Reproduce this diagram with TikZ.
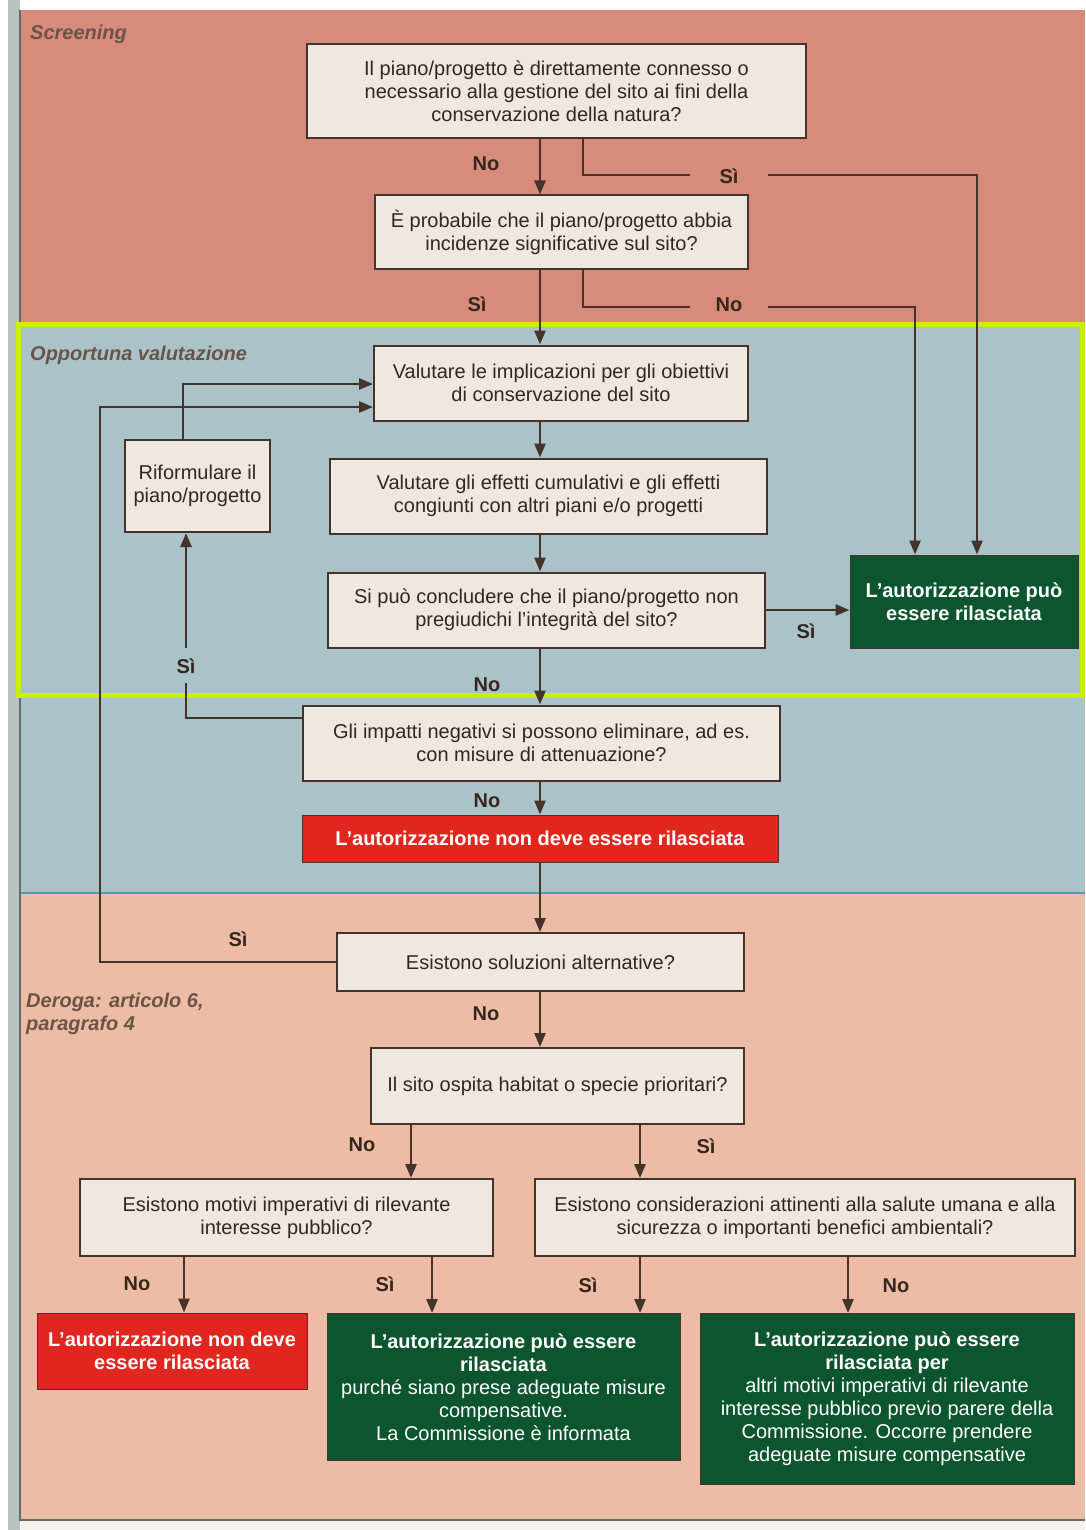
\documentclass[tikz,border=0pt]{standalone}
\usepackage{fontspec}
\setmainfont{Liberation Sans}
\usetikzlibrary{arrows.meta}
\definecolor{scr}{HTML}{D78B7B}
\definecolor{opp}{HTML}{A9C3C9}
\definecolor{der}{HTML}{EDBCA4}
\definecolor{framec}{HTML}{C8F000}
\definecolor{boxfill}{HTML}{EEE8E0}
\definecolor{ink}{HTML}{45322A}
\definecolor{txt}{HTML}{35271F}
\definecolor{dgreen}{HTML}{0D552E}
\definecolor{dred}{HTML}{E0261F}
\definecolor{sectc}{HTML}{6B5348}
\definecolor{divc}{HTML}{5A96B8}
\definecolor{edgec}{HTML}{8C9A9A}
\begin{document}
\begin{tikzpicture}[x=1pt,y=-1pt,
  font=\fontsize{20}{23}\selectfont,
  qbox/.style={draw=ink, line width=2pt, fill=boxfill, text=txt, align=center, inner sep=2pt},
  gbox/.style={draw=ink, line width=1pt, fill=dgreen, text=white, align=center, inner sep=2pt},
  rbox/.style={draw=ink, line width=1pt, fill=dred, text=white, align=center, inner sep=2pt, font=\bfseries\fontsize{20}{23}\selectfont},
  arr/.style={draw=ink, line width=2.6pt, -{Triangle[length=14pt,width=11pt]}},
  ln/.style={draw=ink, line width=2.6pt},
  lbl/.style={font=\bfseries\fontsize{20}{23}\selectfont, text=txt, inner sep=0pt},
  sectlbl/.style={font=\bfseries\itshape\fontsize{20}{23}\selectfont, text=sectc, anchor=west, align=left, inner sep=0pt}
]
\useasboundingbox (0,0) rectangle (1085,1530);
% backgrounds
\fill[white] (0,0) rectangle (1085,1530);
\fill[edgec!60] (8,0) rectangle (20,1530);
\fill[scr] (20,10) rectangle (1085,322);
\fill[opp] (20,322) rectangle (1085,893);
\fill[der] (20,893) rectangle (1085,1520);
\draw[divc, line width=1.5pt] (20,893) -- (1085,893);
\draw[edgec!70!black, line width=2pt] (20,10) -- (20,1520) -- (1085,1520);
\fill[boxfill!60!white] (20,1521) rectangle (1085,1530);
\draw[framec, line width=5pt] (18,324) rectangle (1082,695);

% section labels
\node[sectlbl] (s1) at (30,34) {Screening};
\node[sectlbl] (s2) at (30,355) {Opportuna valutazione};
\node[sectlbl] (s3) at (26,1014) {Deroga: articolo 6,\\paragrafo 4};

% boxes
\node[qbox, minimum width=499pt, minimum height=94pt] (A) at (556.5,91)
  {Il piano/progetto è direttamente connesso o\\necessario alla gestione del sito ai fini della\\conservazione della natura?};
\node[qbox, minimum width=373pt, minimum height=73pt] (B) at (561.5,232)
  {È probabile che il piano/progetto abbia\\incidenze significative sul sito?};
\node[qbox, minimum width=374pt, minimum height=75pt] (C) at (561,383)
  {Valutare le implicazioni per gli obiettivi\\di conservazione del sito};
\node[qbox, minimum width=437pt, minimum height=75pt] (D) at (548.5,496)
  {Valutare gli effetti cumulativi e gli effetti\\congiunti con altri piani e/o progetti};
\node[qbox, minimum width=437pt, minimum height=75pt] (E) at (546.5,610)
  {Si può concludere che il piano/progetto non\\pregiudichi l’integrità del sito?};
\node[gbox, minimum width=228pt, minimum height=93pt, font=\bfseries\fontsize{20}{23}\selectfont] (G1) at (964,601.5)
  {L’autorizzazione può\\essere rilasciata};
\node[qbox, minimum width=145pt, minimum height=92pt] (R) at (197.5,486)
  {Riformulare il\\piano/progetto};
\node[qbox, minimum width=477pt, minimum height=75pt] (F) at (541.5,743)
  {Gli impatti negativi si possono eliminare, ad es.\\con misure di attenuazione?};
\node[rbox, minimum width=476pt, minimum height=47pt] (N1) at (540,838.5)
  {L’autorizzazione non deve essere rilasciata};
\node[qbox, minimum width=407pt, minimum height=58pt] (H) at (540.5,962)
  {Esistono soluzioni alternative?};
\node[qbox, minimum width=373pt, minimum height=76pt] (I) at (557.5,1086)
  {Il sito ospita habitat o specie prioritari?};
\node[qbox, minimum width=413pt, minimum height=77pt] (J) at (286.5,1217.5)
  {Esistono motivi imperativi di rilevante\\interesse pubblico?};
\node[qbox, minimum width=540pt, minimum height=77pt] (K) at (805,1217.5)
  {Esistono considerazioni attinenti alla salute umana e alla\\sicurezza o importanti benefici ambientali?};
\node[rbox, minimum width=270pt, minimum height=76pt] (N2) at (172,1351)
  {L’autorizzazione non deve\\essere rilasciata};
\node[gbox, minimum width=353pt, minimum height=147pt] (G2) at (503.5,1387)
  {\textbf{L’autorizzazione può essere}\\\textbf{rilasciata}\\purché siano prese adeguate misure\\compensative.\\La Commissione è informata};
\node[gbox, minimum width=374pt, minimum height=171pt] (G3) at (887,1399)
  {\textbf{L’autorizzazione può essere}\\\textbf{rilasciata per}\\altri motivi imperativi di rilevante\\interesse pubblico previo parere della\\Commissione. Occorre prendere\\adeguate misure compensative};

% helper coordinates
\coordinate (xm) at (540,0);
\coordinate (xb) at (583,0);
\coordinate (xg1) at (977,0);
\coordinate (xg2) at (915,0);
\coordinate (s1a) at (690,175);
\coordinate (s1b) at (768,175);
\coordinate (s2a) at (690,307);
\coordinate (s2b) at (768,307);
\coordinate (xr) at (186,0);
\coordinate (xr2) at (183,0);
\coordinate (rgapa) at (186,648);
\coordinate (rgapb) at (186,683);
\coordinate (yr) at (0,384);
\coordinate (yl) at (0,407);
\coordinate (yf) at (0,718);
\coordinate (xl) at (100,0);
\coordinate (xin) at (411,0);
\coordinate (xis) at (640,0);
\coordinate (xjn) at (184,0);
\coordinate (xjs) at (432,0);
\coordinate (xks) at (640,0);
\coordinate (xkn) at (848,0);

% screening connectors
\draw[arr] (A.south -| xm) -- (B.north -| xm);
\node[lbl] (lNo1) at (486,164) {No};
\draw[ln] (A.south -| xb) |- (s1a);
\node[lbl] (lSi1) at (729,176) {Sì};
\draw[arr] (s1b) -| (G1.north -| xg1);
\draw[arr] (B.south -| xm) -- (C.north -| xm);
\node[lbl] (lSi2) at (477,304) {Sì};
\draw[ln] (B.south -| xb) |- (s2a);
\node[lbl] (lNo2) at (729,305) {No};
\draw[arr] (s2b) -| (G1.north -| xg2);

% opportuna valutazione
\draw[arr] (C.south -| xm) -- (D.north -| xm);
\draw[arr] (D.south -| xm) -- (E.north -| xm);
\draw[arr] (E.east) -- (G1.west |- E.east);
\node[lbl] (lSi3) at (806,631) {Sì};
\draw[arr] (E.south -| xm) -- (F.north -| xm);
\node[lbl] (lNo3) at (487,685) {No};
\draw[ln] (F.west |- yf) -| (rgapb);
\node[lbl] (lSi4) at (186,666) {Sì};
\draw[arr] (rgapa) -- (R.south -| xr);
\draw[arr] (R.north -| xr2) |- (C.west |- yr);
\draw[arr] (H.west) -| (xl |- yl) -- (C.west |- yl);
\node[lbl] (lSi5) at (238,939) {Sì};
\draw[arr] (F.south -| xm) -- (N1.north -| xm);
\node[lbl] (lNo4) at (487,801) {No};
\draw[arr] (N1.south -| xm) -- (H.north -| xm);

% deroga
\draw[arr] (H.south -| xm) -- (I.north -| xm);
\node[lbl] (lNo5) at (486,1014) {No};
\draw[arr] (I.south -| xin) -- (J.north -| xin);
\node[lbl] (lNo6) at (362,1145) {No};
\draw[arr] (I.south -| xis) -- (K.north -| xis);
\node[lbl] (lSi6) at (706,1146) {Sì};
\draw[arr] (J.south -| xjn) -- (N2.north -| xjn);
\node[lbl] (lNo7) at (137,1284) {No};
\draw[arr] (J.south -| xjs) -- (G2.north -| xjs);
\node[lbl] (lSi7) at (385,1284) {Sì};
\draw[arr] (K.south -| xks) -- (G2.north -| xks);
\node[lbl] (lSi8) at (588,1285) {Sì};
\draw[arr] (K.south -| xkn) -- (G3.north -| xkn);
\node[lbl] (lNo8) at (896,1286) {No};
\end{tikzpicture}
\end{document}
